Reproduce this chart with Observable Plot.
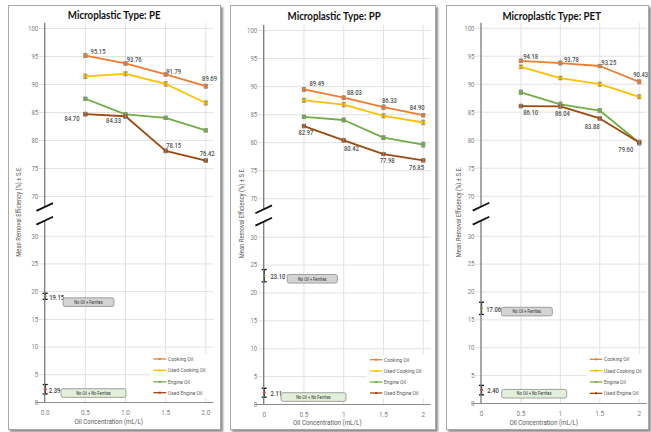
<!DOCTYPE html>
<html><head><meta charset="utf-8">
<script src="https://cdn.jsdelivr.net/npm/d3@7"></script>
<script src="https://cdn.jsdelivr.net/npm/@observablehq/plot@0.6"></script>
<style>
body{margin:0;background:#fff;}
#root{position:relative;width:651px;height:432px;overflow:hidden;background:#fff;}
.frame{position:absolute;box-sizing:border-box;border:1px solid #a9a9a9;background:#fff;box-shadow:1.5px 1.5px 2px rgba(0,0,0,0.45);}
.frame svg{position:absolute;left:0;top:0;overflow:visible;}
</style></head><body><div id="root"></div>
<script>
// ---------- DATA ----------
const concentrations = [0.5, 1.0, 1.5, 2.0];
const oilTypes = ["Cooking Oil", "Used Cooking Oil", "Engine Oil", "Used Engine Oil"];
const xTicks = [0, 0.5, 1, 1.5, 2];
const yTicks = [0, 5, 10, 15, 20, 25, 30, 70, 75, 80, 85, 90, 95, 100];
const controlGroups = ["No Oil + Ferrites", "No Oil + No Ferrites"];

// PE
const peCooking      = [95.15, 93.76, 91.79, 89.69];
const peUsedCooking  = [91.45, 91.90, 90.10, 86.70];
const peEngine       = [87.45, 84.65, 84.05, 81.80];
const peUsedEngine   = [84.70, 84.33, 78.15, 76.42];
const peCookingSE     = [0.35, 0.30, 0.30, 0.35];
const peUsedCookingSE = [0.40, 0.35, 0.40, 0.35];
const peEngineSE      = [0.25, 0.30, 0.25, 0.25];
const peUsedEngineSE  = [0.35, 0.40, 0.35, 0.30];
const peControl   = [19.15, 2.39];
const peControlSE = [0.55, 0.85];

// PP
const ppCooking      = [89.49, 88.03, 86.33, 84.90];
const ppUsedCooking  = [87.55, 86.80, 84.80, 83.60];
const ppEngine       = [84.60, 84.05, 80.90, 79.65];
const ppUsedEngine   = [82.97, 80.42, 77.98, 76.85];
const ppCookingSE     = [0.35, 0.30, 0.40, 0.30];
const ppUsedCookingSE = [0.35, 0.40, 0.35, 0.40];
const ppEngineSE      = [0.30, 0.35, 0.35, 0.45];
const ppUsedEngineSE  = [0.30, 0.35, 0.25, 0.25];
const ppControl   = [23.10, 2.11];
const ppControlSE = [1.10, 0.80];

// PET
const petCooking      = [94.18, 93.78, 93.25, 90.43];
const petUsedCooking  = [93.10, 91.10, 90.00, 87.75];
const petEngine       = [88.55, 86.40, 85.30, 79.55];
const petUsedEngine   = [86.10, 86.04, 83.88, 79.60];
const petCookingSE     = [0.30, 0.35, 0.25, 0.35];
const petUsedCookingSE = [0.30, 0.30, 0.35, 0.35];
const petEngineSE      = [0.40, 0.40, 0.35, 0.45];
const petUsedEngineSE  = [0.30, 0.35, 0.30, 0.35];
const petControl   = [17.06, 2.40];
const petControlSE = [1.10, 0.85];

// ---------- STYLE / LAYOUT ----------
const oilColors = ["#ED7D31", "#FFC000", "#70AD47", "#9E480E"];
const controlColors = ["#70AD47", "#E02020"];
const boxFills = ["#D4D4D4", "#E2F0D9"];
const NARROW = 'Roboto, "Liberation Sans", sans-serif';
const TITLEF = 'Lato, "Open Sans", sans-serif';
const CONDENSE = 0.8, TITLE_CONDENSE = 0.9;

const panels = [
  {
    title: "Microplastic Type: PE",
    series: [peCooking, peUsedCooking, peEngine, peUsedEngine],
    se: [peCookingSE, peUsedCookingSE, peEngineSE, peUsedEngineSE],
    control: peControl, controlSE: peControlSE,
    xFmt: d => d.toFixed(1),
    frame: [8, 5, 213, 425],
    xPx: [44.7, 205.3], yPx: [402, 235.7, 196, 28], gridTop: 23,
    titlePos: [114.2, 15.7], yTitlePos: [18, 211.5], xTitlePos: [108.7, 421.7],
    legend: {x1: 153.3, x2: 166.3, tx: 168, rows: [359, 370.3, 381.8, 392.7]},
    boxes: [{dx: 18.3, dy: 6.3, w: 51}, {dx: 16.3, dy: 4.3, w: 65}],
    cookOff: [[12.7, -4.5], [8.6, -3.6], [8, -3.3], [3.7, -7.4]],
    uengOff: [[-13.3, 4.6], [-12, 4.9], [8, -5.4], [1.4, -7.3]],
    ctrlOff: [4, 3.5]
  },
  {
    title: "Microplastic Type: PP",
    series: [ppCooking, ppUsedCooking, ppEngine, ppUsedEngine],
    se: [ppCookingSE, ppUsedCookingSE, ppEngineSE, ppUsedEngineSE],
    control: ppControl, controlSE: ppControlSE,
    xFmt: d => String(d),
    frame: [230, 5, 206, 425],
    xPx: [263.7, 422.7], yPx: [404, 236.7, 198.3, 30], gridTop: 25,
    titlePos: [334.2, 16], yTitlePos: [241.7, 213], xTitlePos: [327.3, 422.5],
    legend: {x1: 370, x2: 382.3, tx: 384, rows: [359.7, 371, 382, 393]},
    boxes: [{dx: 23.6, dy: 3.6, w: 50}, {dx: 17.3, dy: 4.8, w: 65}],
    cookOff: [[13, -6.2], [10.7, -5.3], [6, -7], [-6, -7.3]],
    uengOff: [[2, 6.5], [7.7, 8.4], [3.7, 6.7], [-6.7, 7]],
    ctrlOff: [6.3, 6.3]
  },
  {
    title: "Microplastic Type: PET",
    series: [petCooking, petUsedCooking, petEngine, petUsedEngine],
    se: [petCookingSE, petUsedCookingSE, petEngineSE, petUsedEngineSE],
    control: petControl, controlSE: petControlSE,
    xFmt: d => String(d),
    frame: [446, 5, 203, 425],
    xPx: [481, 638.7], yPx: [403, 235.7, 195.7, 27.7], gridTop: 22.7,
    titlePos: [551.7, 16], yTitlePos: [458.3, 212], xTitlePos: [543.7, 422],
    legend: {x1: 589.7, x2: 602.3, tx: 604, rows: [359.3, 370.7, 382, 393.3]},
    boxes: [{dx: 20.3, dy: 3.7, w: 51}, {dx: 20.7, dy: 4.1, w: 65}],
    cookOff: [[9.7, -4], [11, -3.5], [9, -3.5], [1.5, -7]],
    uengOff: [[9.7, 6.2], [2, 7], [-7.6, 8], [-13.4, 7]],
    ctrlOff: [4.7, 5.7]
  }
];

const capSymbol = {draw(ctx, size) { const r = Math.sqrt(size / Math.PI); ctx.moveTo(-r, 0); ctx.lineTo(r, 0); }};
const root = document.getElementById("root");

function condense(node) {
  node.querySelectorAll("text").forEach(t => {
    const f = t.classList.contains("ptitle") ? TITLE_CONDENSE : CONDENSE;
    const w = t.getComputedTextLength();
    if (w > 0) { t.setAttribute("textLength", (w * f).toFixed(2)); t.setAttribute("lengthAdjust", "spacingAndGlyphs"); }
  });
}

function drawPanel(cfg) {
  const frame = document.createElement("div");
  frame.className = "frame";
  Object.assign(frame.style, {left: cfg.frame[0] + "px", top: cfg.frame[1] + "px", width: cfg.frame[2] + "px", height: cfg.frame[3] + "px"});
  root.appendChild(frame);
  const ox = cfg.frame[0] + 1, oy = cfg.frame[1] + 1;
  const W = cfg.frame[2] - 2, H = cfg.frame[3] - 2;
  const X0 = cfg.xPx[0] - ox, X2 = cfg.xPx[1] - ox;
  const Y = cfg.yPx.map(v => v - oy);

  const rows = [];
  cfg.series.forEach((vals, s) => vals.forEach((v, i) =>
    rows.push({oil: oilTypes[s], x: concentrations[i], y: v, se: cfg.se[s][i]})));
  const controls = controlGroups.map((g, i) => ({group: g, x: 0, y: cfg.control[i], se: cfg.controlSE[i], color: controlColors[i]}));

  const labelMarks = [];
  [[0, cfg.cookOff], [3, cfg.uengOff]].forEach(([s, offs]) => {
    cfg.series[s].forEach((v, i) => {
      labelMarks.push(Plot.text([{x: concentrations[i], y: v}], {
        x: "x", y: "y", text: d => d.y.toFixed(2), dx: offs[i][0], dy: offs[i][1],
        fill: "#505050", fontSize: 7.3, fontWeight: 500, textAnchor: "middle"
      }));
    });
  });
  controls.forEach((c, i) => {
    labelMarks.push(Plot.text([c], {
      x: "x", y: "y", text: d => d.y.toFixed(2), dx: cfg.ctrlOff[i], dy: 1,
      fill: "#404040", fontSize: 7.3, fontWeight: 500, textAnchor: "start"
    }));
  });

  const chart = Plot.plot({
    width: W, height: H,
    marginLeft: X0 - 6, marginRight: W - (X2 + 8),
    marginTop: cfg.gridTop - oy, marginBottom: H - Y[0],
    x: {type: "linear", domain: [0, 2], range: [X0, X2], axis: null},
    y: {type: "linear", domain: [0, 30, 70, 100], range: Y, axis: null},
    color: {domain: oilTypes, range: oilColors},
    style: {fontFamily: NARROW, background: "transparent", overflow: "visible"},
    marks: [
      Plot.ruleY(yTicks, {stroke: "#e2e2e2", strokeWidth: 1}),
      Plot.ruleX(xTicks.slice(1), {stroke: "#e2e2e2", strokeWidth: 1}),
      Plot.ruleY([0], {stroke: "#8c8c8c", strokeWidth: 1.2, insetLeft: -3}),
      Plot.text(yTicks, {x: 0, y: d => d, dx: -7, textAnchor: "end", text: d => String(d), fill: "#808080", fontSize: 7.5}),
      Plot.text(xTicks, {x: d => d, y: 0, dy: 10, text: cfg.xFmt, fill: "#808080", fontSize: 8}),
      Plot.line(rows, {x: "x", y: "y", z: "oil", stroke: "oil", strokeWidth: 1.8}),
      Plot.dot(rows, {x: "x", y: "y", symbol: "square", r: 2.4, fill: "oil", stroke: null}),
      Plot.ruleX(rows, {x: "x", y1: d => d.y - d.se, y2: d => d.y + d.se, stroke: "#8c8c8c", strokeWidth: 0.9}),
      Plot.dot(rows, {x: "x", y: d => d.y - d.se, symbol: capSymbol, r: 2, fill: "none", stroke: "#8c8c8c", strokeWidth: 0.9}),
      Plot.dot(rows, {x: "x", y: d => d.y + d.se, symbol: capSymbol, r: 2, fill: "none", stroke: "#8c8c8c", strokeWidth: 0.9}),
      Plot.ruleX(controls, {x: "x", y1: d => d.y - d.se, y2: d => d.y + d.se, stroke: "#111", strokeWidth: 1.3}),
      Plot.dot(controls, {x: "x", y: d => d.y - d.se, symbol: capSymbol, r: 2.5, fill: "none", stroke: "#111", strokeWidth: 1.3}),
      Plot.dot(controls, {x: "x", y: d => d.y + d.se, symbol: capSymbol, r: 2.5, fill: "none", stroke: "#111", strokeWidth: 1.3}),
      Plot.dot(controls, {x: "x", y: "y", r: 1.4, fill: d => d.color, stroke: null}),
      ...labelMarks
    ]
  });
  frame.appendChild(chart);

  const sx = chart.scale("x"), sy = chart.scale("y");
  const svg = d3.select(chart);
  const ax = sx.apply(0);
  const y70 = sy.apply(70), y30 = sy.apply(30), y0 = sy.apply(0), y100 = sy.apply(100);
  // broken y-axis line
  const g = svg.append("g");
  g.append("line").attr("x1", ax).attr("x2", ax).attr("y1", y100 - 5).attr("y2", y70 + 11)
    .attr("stroke", "#7a7a7a").attr("stroke-width", 1.3);
  g.append("line").attr("x1", ax).attr("x2", ax).attr("y1", y30 - 15).attr("y2", y0)
    .attr("stroke", "#7a7a7a").attr("stroke-width", 1.3);
  [y70 + 11, y30 - 15].forEach(cy => {
    g.append("line").attr("x1", ax - 8.3).attr("y1", cy + 3.9).attr("x2", ax + 8.3).attr("y2", cy - 3.9)
      .attr("stroke", "#111").attr("stroke-width", 1.8);
  });

  // annotation boxes
  controls.forEach((c, i) => {
    const b = cfg.boxes[i];
    const bx = ax + b.dx, by = sy.apply(c.y) + b.dy;
    g.append("rect").attr("x", bx).attr("y", by - 4.3).attr("width", b.w).attr("height", 8.6)
      .attr("rx", 2).attr("fill", boxFills[i]).attr("stroke", "#8a8a8a").attr("stroke-width", 0.8);
    g.append("text").attr("x", bx + b.w / 2).attr("y", by).attr("dy", "0.35em").attr("text-anchor", "middle")
      .attr("font-size", 5).attr("fill", "#333").attr("font-family", NARROW).text(c.group);
  });

  // titles
  svg.append("text").attr("class", "ptitle").attr("x", cfg.titlePos[0] - ox).attr("y", cfg.titlePos[1] - oy).attr("dy", "0.35em")
    .attr("text-anchor", "middle").attr("font-family", TITLEF).attr("font-weight", "bold")
    .attr("font-size", 10.8).attr("fill", "#111").text(cfg.title);
  svg.append("text").attr("transform", `translate(${cfg.yTitlePos[0] - ox},${cfg.yTitlePos[1] - oy}) rotate(-90)`)
    .attr("dy", "0.35em").attr("text-anchor", "middle").attr("font-family", NARROW)
    .attr("font-size", 7.3).attr("fill", "#595959").text("Mean Removal Efficiency (%) ± S.E.");
  svg.append("text").attr("x", cfg.xTitlePos[0] - ox).attr("y", cfg.xTitlePos[1] - oy).attr("dy", "0.35em")
    .attr("text-anchor", "middle").attr("font-family", NARROW)
    .attr("font-size", 7.8).attr("fill", "#595959").text("Oil Concentration (mL/L)");

  // legend
  const L = cfg.legend;
  const lg = svg.append("g");
  lg.append("rect").attr("x", L.x1 - ox - 3).attr("y", L.rows[0] - oy - 5).attr("width", X2 + 8 - (L.x1 - ox - 3))
    .attr("height", L.rows[3] - L.rows[0] + 10).attr("fill", "#fff");
  oilTypes.forEach((name, i) => {
    const yy = L.rows[i] - oy;
    lg.append("line").attr("x1", L.x1 - ox).attr("x2", L.x2 - ox).attr("y1", yy).attr("y2", yy)
      .attr("stroke", oilColors[i]).attr("stroke-width", 1.3);
    lg.append("rect").attr("x", (L.x1 + L.x2) / 2 - ox - 1).attr("y", yy - 1).attr("width", 2).attr("height", 2)
      .attr("fill", oilColors[i]);
    lg.append("text").attr("x", L.tx - ox).attr("y", yy).attr("dy", "0.35em").attr("text-anchor", "start")
      .attr("font-family", NARROW).attr("font-size", 6.2).attr("fill", "#595959").text(name);
  });

  condense(chart);
}

panels.forEach(drawPanel);
</script>
</body></html>
